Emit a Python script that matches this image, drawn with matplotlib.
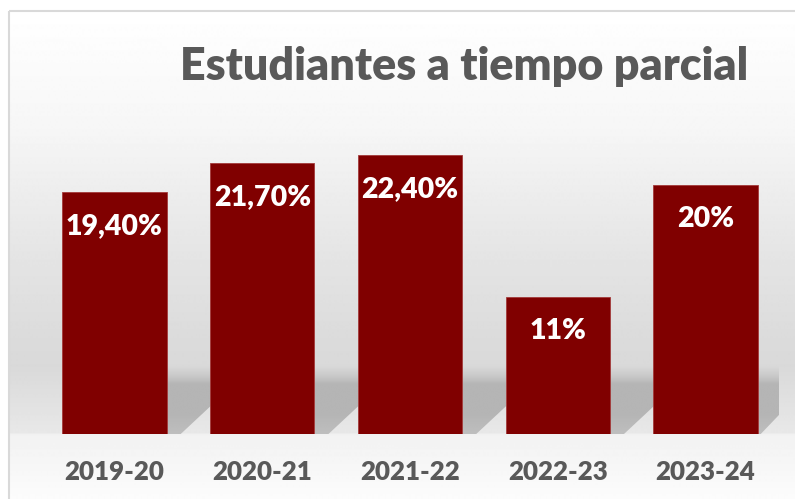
import numpy as np
import matplotlib.pyplot as plt
from matplotlib.patches import Polygon, Rectangle

categories = ['2019-20', '2020-21', '2021-22', '2022-23', '2023-24']
values = [19.4, 21.7, 22.4, 11, 20]
value_labels = ['19,40%', '21,70%', '22,40%', '11%', '20%']
title = 'Estudiantes a tiempo parcial'

W, H = 795, 499
bar_color = '#800000'
text_gray = '#595959'

plt.rcParams['font.family'] = ['Lato', 'DejaVu Sans']

fig = plt.figure(figsize=(W / 100, H / 100), dpi=100)
fig.patch.set_facecolor('white')

# background of the chart area: soft vertical gradient + light border
bg = fig.add_axes([0, 0, 1, 1])
ys = np.arange(11, H + 1)
stops_y = [11, 130, 200, 260, 340, 366, 433, 435, 470, 499]
stops_g = [255, 246, 236, 228, 219, 217, 232, 242, 247, 252]
g = np.interp(ys, stops_y, stops_g) / 255
bg.imshow(np.repeat(g[:, None], 2, axis=1), cmap='gray', vmin=0, vmax=1,
          extent=(9, W, H, 11), aspect='auto', interpolation='bilinear')
bg.add_patch(Rectangle((8.5, 10.5), W, H, fill=False, edgecolor='#d9d9d9', lw=1.5))
bg.set_xlim(0, W)
bg.set_ylim(H, 0)
bg.axis('off')

# plot area
px_per_unit = 12.47
ax = fig.add_axes([40.6 / W, 65 / H, 738.8 / W, 334 / H])
ax.set_facecolor('none')
x = np.arange(len(categories))
width = 0.707
bars = ax.bar(x, values, width=width, color=bar_color, edgecolor='#a33a3a',
              linewidth=0.6, zorder=3)

# floor shadows behind the bars
sx = 1 / 147.8
sy = 1 / px_per_unit
shade_h = [0, 20, 50, 58, 68]
shade_g = [190, 181, 181, 200, 217]
hh = np.linspace(0, 69, 140)
grad = (np.interp(hh, shade_h, shade_g) / 255)[::-1]
for i, b in enumerate(bars):
    r = b.get_x() + b.get_width()
    if i < len(bars) - 1:
        pts = [(0, 0), (14, 0), (44, 28), (44, 68), (0, 68)]
    else:
        pts = [(0, 0), (3, 0), (25, 23), (25, 69), (0, 69)]
    poly = Polygon([(r + px * sx, py * sy) for px, py in pts], closed=True,
                   facecolor='none', edgecolor='none', transform=ax.transData)
    ax.add_patch(poly)
    im = ax.imshow(np.repeat(grad[:, None], 2, axis=1), cmap='gray', vmin=0, vmax=1,
                   extent=(r - 0.01, r + 45 * sx, 0, 69 * sy), aspect='auto',
                   interpolation='bilinear', zorder=1)
    im.set_clip_path(poly)
    poly.set_clip_on(False)
ax.set_xlim(-0.5, len(categories) - 0.5)
ax.set_ylim(0, 334 / px_per_unit)
ax.set_aspect('auto')

for i, (v, lbl) in enumerate(zip(values, value_labels)):
    ax.annotate(lbl, (i, v), xytext=(0, -42 * 0.72), textcoords='offset points',
                ha='center', va='baseline', color='white', fontsize=20.5,
                fontweight='heavy', zorder=5)

for i, cat in enumerate(categories):
    ax.text(i, -(480 - 434) / 334, cat, transform=ax.get_xaxis_transform(),
            ha='center', va='baseline', fontsize=18.6, fontweight='heavy', color=text_gray)

ax.set_xticks([])
ax.set_yticks([])
for s in ax.spines.values():
    s.set_visible(False)

fig.text(464 / W, 1 - 80 / H, title, ha='center', va='baseline', fontsize=32.2,
         fontweight='heavy', color=text_gray)

plt.savefig('out.png', dpi=100)
